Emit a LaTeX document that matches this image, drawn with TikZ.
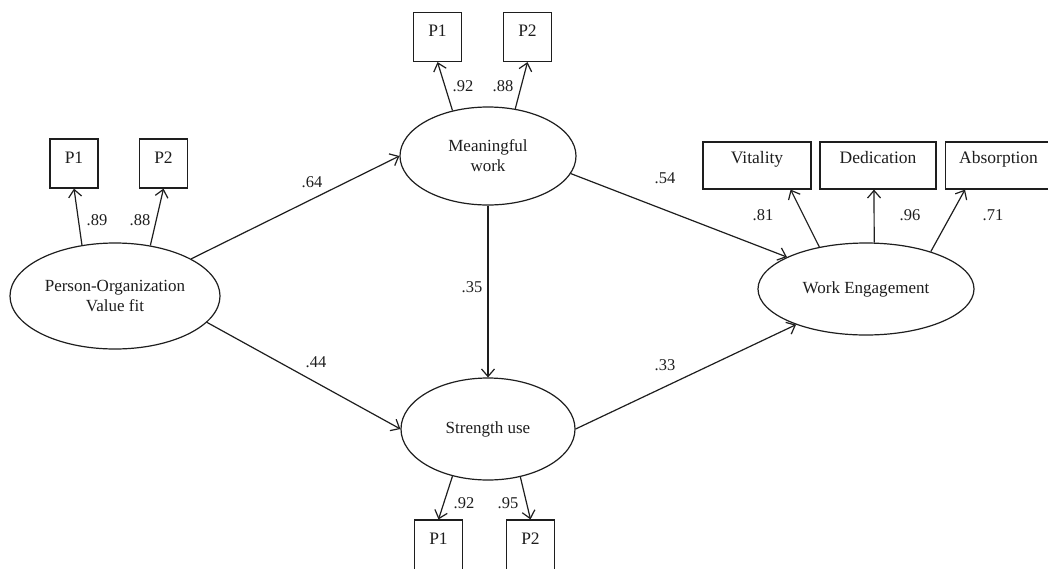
\documentclass[tikz,border=0pt]{standalone}
\usepackage{fontspec}
\setmainfont{Liberation Serif}
\usetikzlibrary{arrows.meta,shapes.geometric,calc}
\definecolor{ink}{RGB}{30,30,30}
\begin{document}
\begin{tikzpicture}[x=1pt,y=-1pt,
 lat/.style={draw=ink, ellipse, line width=1.2pt, inner sep=0pt, align=center, text=ink, font=\fontsize{17}{20}\selectfont},
 ind/.style={draw=ink, rectangle, line width=1.2pt, inner xsep=0pt, inner ysep=0pt, text=ink, font=\fontsize{17.5}{20}\selectfont},
 topbox/.style={ind, minimum width=48pt, text height=24pt, text depth=25pt},
 botbox/.style={ind, minimum width=48pt, text height=24pt, text depth=30pt},
 webox/.style={ind, text height=21pt, text depth=26pt},
 arr/.style={draw=ink, line width=1.2pt, -{Straight Barb[length=7.5pt,width=13pt,line width=1.2pt]}},
 coef/.style={font=\fontsize{16.5}{20}\selectfont, text=ink, inner sep=0pt}
]
\path[use as bounding box, fill=white] (0,0) rectangle (1048,568);

% latent variables
\node[lat, minimum width=210pt, minimum height=106pt] (PO) at (115,296) {Person-Organization\\Value fit};
\node[lat, minimum width=176pt, minimum height=98pt] (MW) at (488,156) {Meaningful\\work};
\node[lat, minimum width=174pt, minimum height=102pt] (SU) at (488,429) {Strength use};
\node[lat, minimum width=216pt, minimum height=92pt] (WE) at (866,289) {Work Engagement};

% indicators
\node[topbox] (po1) at (74,163.5) {P1};
\node[topbox] (po2) at (163.5,163.5) {P2};
\node[topbox] (mw1) at (437.5,37) {P1};
\node[topbox] (mw2) at (527.5,37) {P2};
\node[botbox] (su1) at (438.5,547) {P1};
\node[botbox] (su2) at (530.5,547) {P2};
\node[webox, minimum width=108pt] (vit) at (757,165.5) {Vitality};
\node[webox, minimum width=116pt] (ded) at (878,165.5) {Dedication};
\node[webox, minimum width=112pt, anchor=west] (abs) at (945,165.5) {\hspace*{-6pt}Absorption};

% loadings
\draw[arr] (PO.123) -- (po1.south);
\draw[arr] (PO.55) -- (po2.south);
\draw[arr] (MW.128) -- (mw1.south);
\draw[arr] (MW.60) -- (mw2.south);
\draw[arr] (SU.233) -- (su1.north);
\draw[arr] (SU.304) -- (su2.north);
\draw[arr] (WE.138) -- ($(vit.south east)+(-21,0)$);
\draw[arr] (WE.80) -- ($(ded.south)+(-4,0)$);
\draw[arr] (WE.30) -- ($(abs.south west)+(20,0)$);

% structural paths
\draw[arr] (PO.26) -- (MW.west);
\draw[arr] (PO.-16) -- (SU.west);
\draw[arr] (MW.south) -- (SU.north);
\draw[arr] (MW.-12) -- (WE.158);
\draw[arr] (SU.east) -- (WE.207);

% coefficients
\node[coef] (c1) at (97,220) {.89};
\node[coef] (c2) at (140,220) {.88};
\node[coef] (c3) at (463,86) {.92};
\node[coef] (c4) at (503,86) {.88};
\node[coef] (c5) at (464,503) {.92};
\node[coef] (c6) at (508,503) {.95};
\node[coef] (c7) at (763,215) {.81};
\node[coef] (c8) at (910,215) {.96};
\node[coef] (c9) at (993,215) {.71};
\node[coef] (c10) at (312,182) {.64};
\node[coef] (c11) at (316,362) {.44};
\node[coef] (c12) at (665,178) {.54};
\node[coef] (c13) at (665,365) {.33};
\node[coef] (c14) at (472,287) {.35};
\end{tikzpicture}
\end{document}
